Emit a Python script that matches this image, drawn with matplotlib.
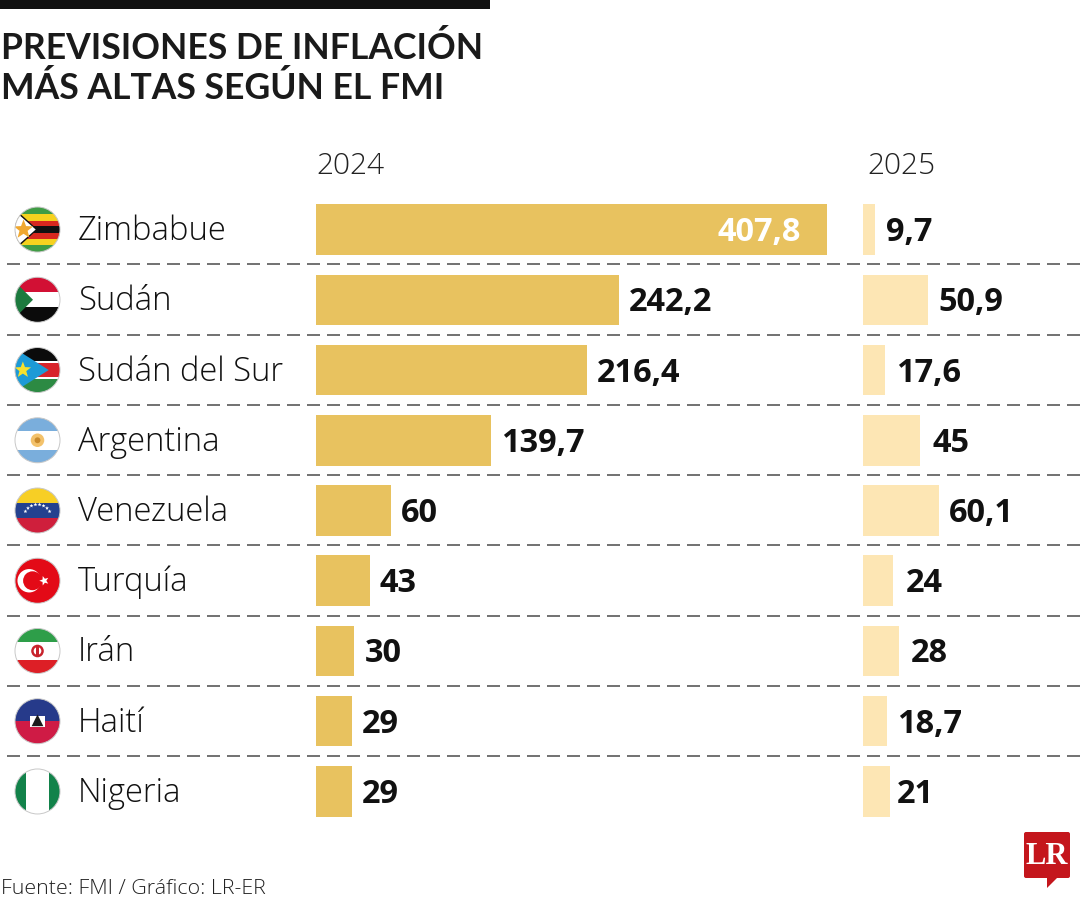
import matplotlib
matplotlib.use("Agg")
import matplotlib.pyplot as plt
from matplotlib.patches import Rectangle, Circle, Polygon, FancyBboxPatch
import numpy as np

countries = ["Zimbabue", "Sudán", "Sudán del Sur", "Argentina", "Venezuela", "Turquía", "Irán", "Haití", "Nigeria"]
values_2024 = [407.8, 242.2, 216.4, 139.7, 60, 43, 30, 29, 29]
values_2025 = [9.7, 50.9, 17.6, 45, 60.1, 24, 28, 18.7, 21]
years = ["2024", "2025"]
title_lines = ["PREVISIONES DE INFLACIÓN", "MÁS ALTAS SEGÚN EL FMI"]
source = "Fuente: FMI / Gráfico: LR-ER"

# label gaps in pixels, bar end to text
gaps_2024 = [-26, 9, 10, 10, 10, 10, 11, 9, 9]
gaps_2025 = [11, 11, 11, 12, 10, 12, 12, 10, 7]

W, H = 1080, 900
C24, C25 = "#E8C25F", "#FDE6B4"
plt.rcParams["font.family"] = ["Open Sans", "DejaVu Sans"]
fig = plt.figure(figsize=(W / 100, H / 100), dpi=100, facecolor="white")

bg = fig.add_axes([0, 0, 1, 1])
bg.set_xlim(0, W); bg.set_ylim(H, 0); bg.axis("off")


def box(x0, y_top, x1, y_bot):
    return [x0 / W, 1 - y_bot / H, (x1 - x0) / W, (y_bot - y_top) / H]


def fmt(v):
    return f"{v:g}".replace(".", ",")


TOP, BOT = 194.4, 826.6
ax24 = fig.add_axes(box(316, TOP, 316 + 511, BOT))
ax25 = fig.add_axes(box(863, TOP, 863 + 127, BOT))
ax24.set_xlim(0, 407.8); ax25.set_xlim(0, 100)
ypos = np.arange(len(countries))
for ax, vals, col, gaps in ((ax24, values_2024, C24, gaps_2024), (ax25, values_2025, C25, gaps_2025)):
    ax.set_ylim(len(countries) - 0.5, -0.5)
    ax.barh(ypos, vals, height=50.5 / 70.25, color=col, linewidth=0)
    ax.axis("off")
    ax.patch.set_alpha(0)
    for y, v, g in zip(ypos, vals, gaps):
        inside = g < 0
        ax.annotate(fmt(v), (v, y), xytext=(g, 1), textcoords="offset pixels",
                    ha="right" if inside else "left", va="center_baseline",
                    color="white" if inside else "#111111", fontsize=23.4, fontweight="bold",
                    annotation_clip=False)

# top rule, title, headers
bg.add_patch(Rectangle((0, 0), 490, 8.5, color="#111111", lw=0))
for line, yy in zip(title_lines, (59, 99)):
    bg.text(1, yy, line, fontsize=25.6, fontweight="bold", family=["Lato", "DejaVu Sans"], color="#1a1a1a",
            va="baseline", ha="left")
bg.text(316, 174, years[0], fontsize=21.5, fontweight="light", color="#222222", va="baseline")
bg.text(867, 174, years[1], fontsize=21.5, fontweight="light", color="#222222", va="baseline")
bg.text(1, 894, source, fontsize=15.4, fontweight="light", color="#222222", va="baseline")

# separators and row labels
row_y = [TOP + (i + 0.5) * (BOT - TOP) / len(countries) for i in ypos]
for y0, y1 in zip(row_y[:-1], row_y[1:]):
    yy = (y0 + y1) / 2 - 0.25
    bg.plot([7, W], [yy, yy], color="#4a4a4a", lw=1.1, dashes=(13 / 1.1 * 0.72, 7 / 1.1 * 0.72),
            dash_capstyle="butt")
for name, yy in zip(countries, row_y):
    bg.text(78, yy + 10.5, name, fontsize=23.6, fontweight="light", color="#111111", va="baseline")

# flags
R = 22.5
FX = 37.5


def flag(cy):
    clip = Circle((FX, cy), R, transform=bg.transData)

    def rect(x0, y0, x1, y1, c):
        p = Rectangle((FX + x0 * R, cy + y0 * R), (x1 - x0) * R, (y1 - y0) * R, color=c, lw=0)
        bg.add_patch(p); p.set_clip_path(clip)

    def poly(pts, c):
        p = Polygon([(FX + a * R, cy + b * R) for a, b in pts], closed=True, color=c, lw=0)
        bg.add_patch(p); p.set_clip_path(clip)

    def circ(a, b, r, c):
        p = Circle((FX + a * R, cy + b * R), r * R, color=c, lw=0)
        bg.add_patch(p); p.set_clip_path(clip)

    def star(a, b, r, c, rot=-90):
        ang = np.deg2rad(np.arange(10) * 36 + rot)
        rad = np.where(np.arange(10) % 2 == 0, r, r * 0.42)
        poly(list(zip(a + rad * np.cos(ang), b + rad * np.sin(ang))), c)

    return rect, poly, circ, star


def ring(cy):
    bg.add_patch(Circle((FX, cy), R, fill=False, ec="#c8c8c8", lw=0.7))


# Zimbabwe
r, p, c, s = flag(row_y[0])
for y0, y1, col in [(-1, -0.68, "#3f9c45"), (-0.68, -0.4, "#f6d21f"), (-0.4, -0.14, "#d8281f"), (-0.14, 0.14, "#111111"),
                    (0.14, 0.4, "#d8281f"), (0.4, 0.68, "#f6d21f"), (0.68, 1, "#3f9c45")]:
    r(-1, y0, 1, y1, col)
p([(-1.1, -1.0), (0, 0), (-1.1, 1.0)], "#111111")
p([(-1.1, -0.9), (-0.08, 0), (-1.1, 0.9)], "white")
s(-0.62, 0, 0.45, "#f0a830")
# Sudan
r, p, c, s = flag(row_y[1])
r(-1, -1, 1, -0.33, "#d21034"); r(-1, -0.33, 1, 0.33, "white"); r(-1, 0.33, 1, 1, "#0b0b0b")
p([(-1.05, -0.85), (-0.2, 0), (-1.05, 0.85)], "#1c7a3e")
# South Sudan
r, p, c, s = flag(row_y[2])
r(-1, -1, 1, -0.42, "#0b0b0b"); r(-1, -0.42, 1, -0.3, "white"); r(-1, -0.3, 1, 0.3, "#d8232a")
r(-1, 0.3, 1, 0.42, "white"); r(-1, 0.42, 1, 1, "#2c8a43")
p([(-1.05, -0.98), (0.5, 0), (-1.05, 0.98)], "#1d9ad6")
s(-0.65, 0, 0.38, "#f7e12c")
# Argentina
r, p, c, s = flag(row_y[3])
r(-1, -1, 1, -0.42, "#7aaedc"); r(-1, -0.42, 1, 0.42, "white"); r(-1, 0.42, 1, 1, "#7aaedc")
c(0, 0, 0.3, "#f3c26b"); c(0, 0, 0.13, "#c98a2c")
# Venezuela
r, p, c, s = flag(row_y[4])
r(-1, -1, 1, -0.33, "#f7cf25"); r(-1, -0.33, 1, 0.33, "#24418f"); r(-1, 0.33, 1, 1, "#cf1f3c")
for a in np.deg2rad(np.linspace(-150, -30, 8)):
    s(0.62 * np.cos(a), 0.35 + 0.62 * np.sin(a), 0.09, "white")
# Turkey
r, p, c, s = flag(row_y[5])
r(-1, -1, 1, 1, "#e30a17")
c(-0.37, 0, 0.52, "white"); c(-0.22, 0, 0.42, "#e30a17")
s(0.3, 0, 0.22, "white", rot=180)
# Iran
r, p, c, s = flag(row_y[6])
r(-1, -1, 1, -0.42, "#2e9e49"); r(-1, -0.42, 1, 0.42, "white"); r(-1, 0.42, 1, 1, "#dd1f26")
c(0, 0, 0.28, "#c8232c"); c(0, 0, 0.17, "white"); r(-0.06, -0.28, 0.06, 0.28, "#c8232c")
# Haiti
r, p, c, s = flag(row_y[7])
r(-1, -1, 1, 0, "#263a8a"); r(-1, 0, 1, 1, "#cf1b45")
r(-0.32, -0.22, 0.32, 0.24, "white")
p([(-0.26, 0.22), (-0.1, -0.1), (0, -0.3), (0.1, -0.1), (0.26, 0.22)], "#1b1b1b")
# Nigeria
r, p, c, s = flag(row_y[8])
r(-1, -1, -0.5, 1, "#12824a"); r(-0.5, -1, 0.52, 1, "white"); r(0.52, -1, 1, 1, "#12824a")
for yy in row_y:
    ring(yy)

# LR logo
bg.add_patch(FancyBboxPatch((1026, 834), 42, 42, boxstyle="round,pad=2,rounding_size=2", fc="#c4161c", ec="none"))
bg.add_patch(Polygon([(1047, 877), (1058, 877), (1047, 888)], closed=True, color="#c4161c", lw=0))
bg.text(1047, 864, "LR", fontsize=22, fontweight="bold", family=["Liberation Serif", "DejaVu Serif"], color="white",
        ha="center", va="baseline")

fig.savefig("out.png", dpi=100, facecolor="white")
